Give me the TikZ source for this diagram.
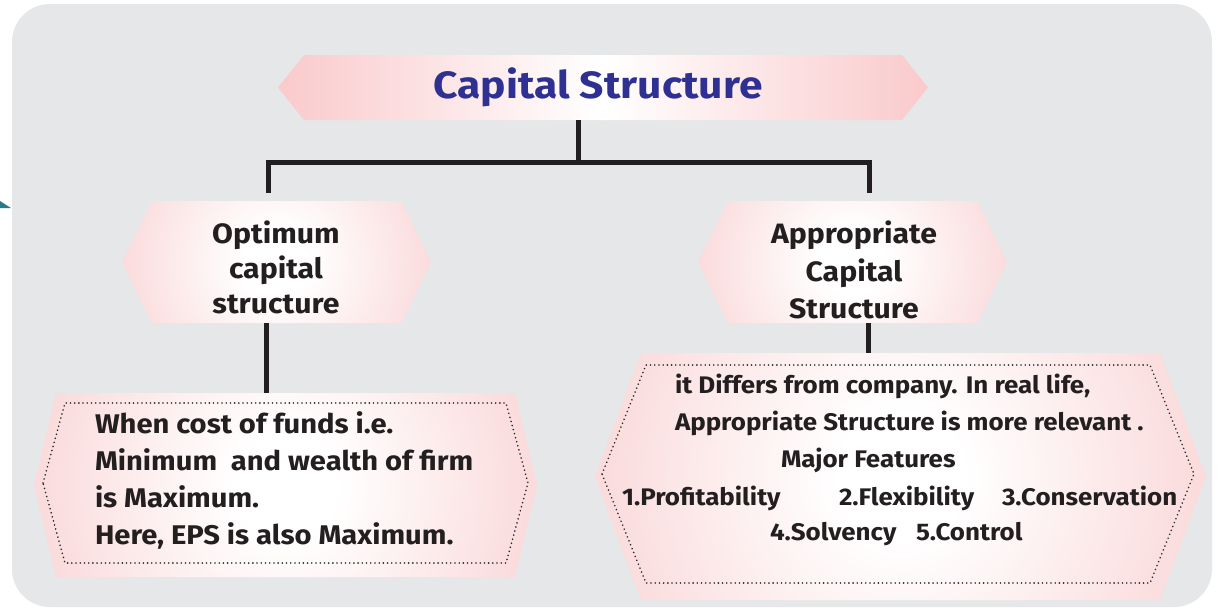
\documentclass[tikz,border=0pt]{standalone}
\usepackage{fontspec}
\setmainfont{Fira Sans}
\newfontfamily\bodyfont{Fira Sans}[FakeStretch=1.08]
\newfontfamily\headfont{Fira Sans}[FakeStretch=1.12]
\usetikzlibrary{calc}
\definecolor{bgc}{HTML}{E6E7E8}
\definecolor{pinkc}{HTML}{F5ACAE}
\definecolor{pinkt}{HTML}{F7AEB1}
\definecolor{linec}{HTML}{231F20}
\definecolor{titleblue}{HTML}{2E3192}
\definecolor{tealc}{HTML}{2B7A8C}
\definecolor{dotc}{HTML}{2A2A2A}
\pgfdeclareradialshading{softpink}{\pgfpoint{0bp}{0bp}}{color(0bp)=(white); color(5bp)=(white); color(48bp)=(pinkc); color(60bp)=(pinkc)}
\pgfdeclarehorizontalshading{titleshade}{100bp}{color(0bp)=(pinkt); color(12bp)=(pinkt); color(50bp)=(white); color(88bp)=(pinkt); color(100bp)=(pinkt)}
\tikzset{
  boxn/.style={inner sep=0pt, outer sep=0pt},
  hexa/.style n args={2}{insert path={(#1.west) -- ($(#1.north west)+(#2,0)$) -- ($(#1.north east)+(-#2,0)$) -- (#1.east) -- ($(#1.south east)+(-#2,0)$) -- ($(#1.south west)+(#2,0)$) -- cycle}},
  conn/.style={draw=linec, line width=5pt},
  dotline/.style={draw=dotc, line width=1.8pt, dash pattern=on 0.01pt off 4.2pt, line cap=round},
  txt/.style={inner sep=0pt, outer sep=0pt, text=linec, font=\bodyfont\fontsize{27}{30}\selectfont\bfseries},
  mtxt/.style={txt, font=\bodyfont\fontsize{28}{30}\selectfont\bfseries},
  rtxt/.style={txt, font=\bodyfont\fontsize{24}{26}\selectfont\bfseries},
}
\begin{document}
\begin{tikzpicture}[x=1pt,y=-1pt]
\useasboundingbox (0,0) rectangle (1219,608);
% background panel
\fill[white] (0,0) rectangle (1219,608);
\fill[bgc, rounded corners=38] (12,4) rectangle (1212,607);
\fill[tealc] (0,201) -- (11,208) -- (0,208) -- cycle;

% box frames (named)
\node[boxn, minimum width=650, minimum height=65] (title) at (603,87.5) {};
\node[boxn, minimum width=309, minimum height=122] (opt) at (276.5,262) {};
\node[boxn, minimum width=309, minimum height=122] (app) at (852.5,262) {};
\node[boxn, minimum width=503, minimum height=184] (lowL) at (285.5,485) {};
\node[boxn, minimum width=611, minimum height=247] (lowR) at (900.5,476.5) {};
\node[boxn, minimum width=485, minimum height=160] (dotL) at (285.5,483) {};
\node[boxn, minimum width=592, minimum height=218] (dotR) at (898,474) {};

% title shape
\shade[shading=titleshade, hexa={title}{26}];
% hexagons with circular gradient
\begin{scope}
  \clip[hexa={opt}{30}];
  \shade[shading=softpink] (opt.center) circle (165);
\end{scope}
\begin{scope}
  \clip[hexa={app}{30}];
  \shade[shading=softpink] (app.center) circle (165);
\end{scope}
\begin{scope}
  \clip[hexa={lowL}{22}];
  \shade[shading=softpink] (lowL.center) circle (262);
\end{scope}
\begin{scope}
  \clip[hexa={lowR}{46}];
  \shade[shading=softpink] (lowR.center) circle (318);
\end{scope}
\path[dotline, hexa={dotL}{22}];
\path[dotline, hexa={dotR}{44}];

% connectors
\coordinate (jt) at (578,162);
\coordinate (hl) at (268,162);
\coordinate (hr) at (869,162);
\coordinate (dl) at (268,193);
\coordinate (dr) at (869,193);
\draw[conn] (title.south -| jt) -- (jt);
\draw[conn] (dl) -- (hl) -- (hr) -- (dr);
\draw[conn] (opt.south -| 266,0) -- (lowL.north -| 266,0);
\draw[conn] (app.south -| 868,0) -- (lowR.north -| 868,0);

% texts
\node[inner sep=0pt, anchor=base, text=titleblue, font=\headfont\fontsize{38}{40}\selectfont\bfseries] (tt) at (598,98) {Capital Structure};

\node[mtxt, anchor=base] (o1) at (276,243) {Optimum};
\node[mtxt, anchor=base] (o2) at (276,278) {capital};
\node[mtxt, anchor=base] (o3) at (276,313) {structure};

\node[mtxt, anchor=base] (a1) at (854,243) {Appropriate};
\node[mtxt, anchor=base] (a2) at (854,281) {Capital};
\node[mtxt, anchor=base] (a3) at (854,318) {Structure};

\node[txt, anchor=base west] (l1) at (95,433) {When cost of funds i.e.};
\node[txt, anchor=base west] (l2) at (95,470) {Minimum\ \ and wealth of firm};
\node[txt, anchor=base west] (l3) at (95,507) {is Maximum.};
\node[txt, anchor=base west] (l4) at (95,544) {Here, EPS is also Maximum.};

\node[rtxt, anchor=base west] (r1) at (675,393) {it Differs from company. In real life,};
\node[rtxt, anchor=base west] (r2) at (675,430) {Appropriate Structure is more relevant .};
\node[rtxt, anchor=base west] (r3) at (781,467) {Major Features};
\node[rtxt, anchor=base west] (r4a) at (622,505) {1.Profitability};
\node[rtxt, anchor=base west] (r4b) at (839,505) {2.Flexibility};
\node[rtxt, anchor=base west] (r4c) at (1002,505) {3.Conservation};
\node[rtxt, anchor=base west] (r5a) at (770,540) {4.Solvency};
\node[rtxt, anchor=base west] (r5b) at (916,540) {5.Control};
\end{tikzpicture}
\end{document}
